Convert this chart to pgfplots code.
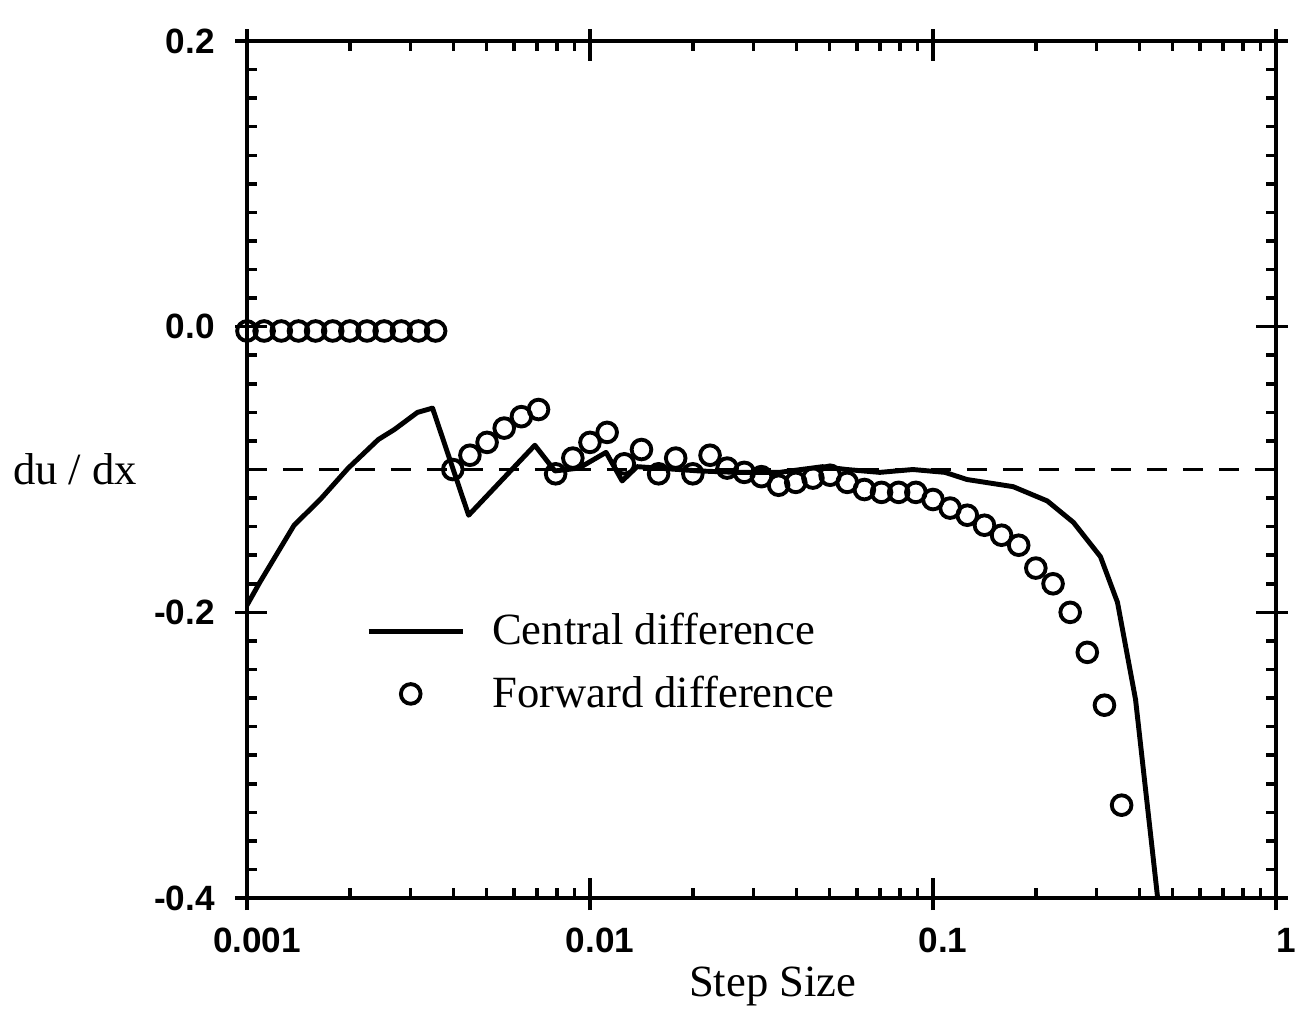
\documentclass[border=0pt]{standalone}
\usepackage{fontspec}
\setmainfont{Liberation Serif}
\newfontfamily\tickfont{Liberation Sans}
\usepackage{pgfplots}
\pgfplotsset{compat=1.18}

\begin{document}
\begin{tikzpicture}
\useasboundingbox (-2.47,-1.14) rectangle (10.57,8.98);
\begin{semilogxaxis}[
  width=10.29cm, height=8.57cm, scale only axis,
  xmin=0.001, xmax=1, ymin=-0.4, ymax=0.2,
  xtick={0.001,0.01,0.1,1}, xticklabels={0.001,0.01,0.1,1},
  ytick={-0.4,-0.2,0,0.2}, yticklabels={-0.4,-0.2,0.0,0.2},
  minor y tick num=9,
  tick align=inside,
  major tick length=0.2cm, minor tick length=0.1cm,
  extra x ticks={0.001,0.01,0.1,1}, extra x tick labels={},
  extra y ticks={-0.4,-0.2,0,0.2}, extra y tick labels={},
  extra tick style={tick align=outside, major tick length=0.12cm},
  axis line style={line width=1.1pt},
  every tick/.style={line width=1pt, black},
  tick label style={font=\tickfont\bfseries\fontsize{10}{12}\selectfont},
  /pgf/number format/assume math mode=true,
  xticklabel style={yshift=-0.18cm, xshift=0.1cm},
  yticklabel style={xshift=-0.2cm},
  xlabel={Step Size},
  xlabel style={font=\fontsize{12.7}{15}\selectfont, at={(axis description cs:0.511,0)}, anchor=center, yshift=-0.88cm},
  ylabel={du / dx},
  ylabel style={font=\fontsize{12.7}{15}\selectfont, rotate=-90, at={(axis description cs:-0.167,0.5)}, anchor=center},
  legend style={draw=none, fill=none, at={(axis description cs:0.105,0.35)}, anchor=north west,
    font=\fontsize{12.7}{15}\selectfont, row sep=0.12cm, column sep=0.2cm},
  legend cell align=left,
]
\addplot[black, line width=0.9pt, dash pattern=on 0.2cm off 0.16cm, forget plot]
  coordinates {(0.001,-0.1) (1,-0.1)};
\addplot[black, line width=1.4pt, line join=round,
  legend image code/.code={\draw[black, line width=1.4pt] (0cm,0cm) -- (0.94cm,0cm);}]
  coordinates {
  (0.001,-0.195) (0.00109,-0.179) (0.001372,-0.139) (0.001635,-0.121)
  (0.001974,-0.099) (0.002415,-0.079) (0.002690,-0.072) (0.003141,-0.060)
  (0.003475,-0.057) (0.004428,-0.132) (0.006906,-0.083) (0.007903,-0.101)
  (0.009287,-0.099) (0.01114,-0.088) (0.01241,-0.108) (0.01372,-0.098)
  (0.02083,-0.101) (0.02673,-0.102) (0.03569,-0.102) (0.04768,-0.098)
  (0.05604,-0.100) (0.06998,-0.102) (0.08738,-0.100) (0.1084,-0.102)
  (0.1257,-0.107) (0.1713,-0.112) (0.2154,-0.122) (0.2567,-0.137)
  (0.3078,-0.161) (0.3451,-0.193) (0.3896,-0.261) (0.4519,-0.400)};
\addlegendentry{Central difference}
\addplot[only marks, mark=o, mark size=2.8pt, mark options={line width=1.1pt, fill=white},
  legend image code/.code={\draw[black, line width=1.1pt, fill=white] (0.42cm,0cm) circle (2.8pt);}]
  coordinates {
  (0.001,-0.003) (0.001122,-0.003) (0.001259,-0.003) (0.001413,-0.003)
  (0.001585,-0.003) (0.001778,-0.003) (0.001995,-0.003) (0.002239,-0.003)
  (0.002512,-0.003) (0.002818,-0.003) (0.003162,-0.003) (0.003548,-0.003)
  (0.003981,-0.100) (0.004467,-0.090) (0.005012,-0.081) (0.005623,-0.071)
  (0.006310,-0.063) (0.007079,-0.058) (0.007943,-0.103) (0.008913,-0.092)
  (0.01,-0.081) (0.01122,-0.074) (0.01259,-0.096) (0.01413,-0.086)
  (0.01585,-0.103) (0.01778,-0.092) (0.01995,-0.103) (0.02239,-0.090)
  (0.02512,-0.099) (0.02818,-0.102) (0.03162,-0.105) (0.03548,-0.111)
  (0.03981,-0.109) (0.04467,-0.106) (0.05012,-0.104) (0.05623,-0.109)
  (0.06310,-0.114) (0.07079,-0.116) (0.07943,-0.116) (0.08913,-0.116)
  (0.1,-0.121) (0.1122,-0.127) (0.1259,-0.132) (0.1413,-0.139)
  (0.1585,-0.146) (0.1778,-0.153) (0.1995,-0.169) (0.2239,-0.180)
  (0.2512,-0.200) (0.2818,-0.228) (0.3162,-0.265) (0.3548,-0.335)};
\addlegendentry{Forward difference}
\end{semilogxaxis}
\end{tikzpicture}
\end{document}
